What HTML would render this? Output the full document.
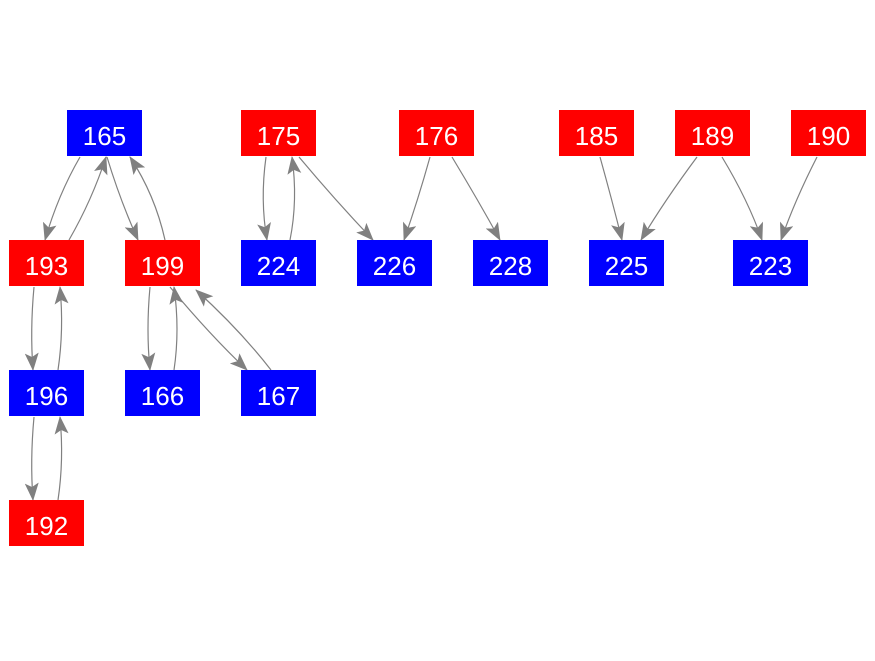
<!DOCTYPE html>
<html><head><style>
body{margin:0;background:#fff;width:875px;height:656px;overflow:hidden}
svg text{font-family:"Liberation Sans",sans-serif;font-size:26px;fill:#fff;text-anchor:middle;dominant-baseline:central}
</style></head><body>
<svg width="875" height="656" viewBox="0 0 875 656">
<defs><marker id="a" markerWidth="18" markerHeight="14" refX="17" refY="7" orient="auto" markerUnits="userSpaceOnUse"><path d="M0,0 L18,7 L0,14 L4,7 z" fill="#808080"/></marker></defs>
<g fill="none" stroke="#808080" stroke-width="1.2" marker-end="url(#a)">
<path d="M80,157 Q58,195 45,240"/>
<path d="M69,240 Q92,200 106,157"/>
<path d="M107,157 Q120,200 138,240"/>
<path d="M165,240 Q155,195 130,157"/>
<path d="M34,287 Q30,330 33,370"/>
<path d="M58,370 Q64,330 60,287"/>
<path d="M34,417 Q30,460 33,500"/>
<path d="M58,500 Q64,460 60,417"/>
<path d="M150,287 Q146,330 150,370"/>
<path d="M174,370 Q180,330 174,287"/>
<path d="M170,287 Q210,335 247,370"/>
<path d="M271,370 Q240,330 196,290"/>
<path d="M266,157 Q260,200 267,240"/>
<path d="M290,240 Q298,200 292,157"/>
<path d="M299,157 Q335,200 373,240"/>
<path d="M430,157 Q418,200 404,240"/>
<path d="M452,157 Q478,200 500,240"/>
<path d="M600,157 Q612,200 622,240"/>
<path d="M697,157 Q665,200 641,240"/>
<path d="M722,157 Q748,200 762,240"/>
<path d="M817,157 Q795,200 781,240"/>
</g>
<g>
<rect x="67" y="110" width="75" height="46" fill="#00f"/><text x="104.5" y="136">165</text>
<rect x="241" y="110" width="75" height="46" fill="#f00"/><text x="278.5" y="136">175</text>
<rect x="399" y="110" width="75" height="46" fill="#f00"/><text x="436.5" y="136">176</text>
<rect x="559" y="110" width="75" height="46" fill="#f00"/><text x="596.5" y="136">185</text>
<rect x="675" y="110" width="75" height="46" fill="#f00"/><text x="712.5" y="136">189</text>
<rect x="791" y="110" width="75" height="46" fill="#f00"/><text x="828.5" y="136">190</text>
<rect x="9" y="240" width="75" height="46" fill="#f00"/><text x="46.5" y="266">193</text>
<rect x="125" y="240" width="75" height="46" fill="#f00"/><text x="162.5" y="266">199</text>
<rect x="241" y="240" width="75" height="46" fill="#00f"/><text x="278.5" y="266">224</text>
<rect x="357" y="240" width="75" height="46" fill="#00f"/><text x="394.5" y="266">226</text>
<rect x="473" y="240" width="75" height="46" fill="#00f"/><text x="510.5" y="266">228</text>
<rect x="589" y="240" width="75" height="46" fill="#00f"/><text x="626.5" y="266">225</text>
<rect x="733" y="240" width="75" height="46" fill="#00f"/><text x="770.5" y="266">223</text>
<rect x="9" y="370" width="75" height="46" fill="#00f"/><text x="46.5" y="396">196</text>
<rect x="125" y="370" width="75" height="46" fill="#00f"/><text x="162.5" y="396">166</text>
<rect x="241" y="370" width="75" height="46" fill="#00f"/><text x="278.5" y="396">167</text>
<rect x="9" y="500" width="75" height="46" fill="#f00"/><text x="46.5" y="526">192</text>
</g>
</svg>
</body></html>
